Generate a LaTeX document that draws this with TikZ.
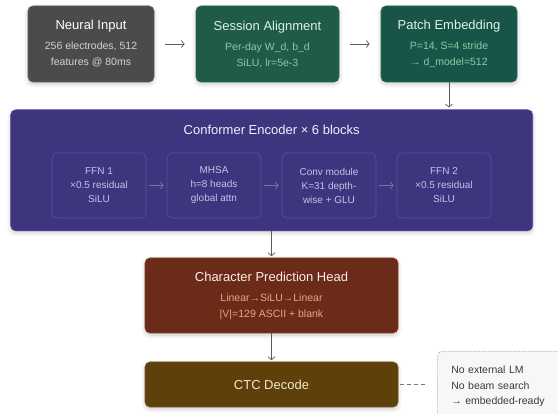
\documentclass[tikz,border=0pt]{standalone}
\usepackage{fontspec}
\setmainfont{Liberation Sans}
\usetikzlibrary{arrows.meta,shadows.blur}

\definecolor{inputfill}{HTML}{4B4B4B}
\definecolor{inputline}{HTML}{5E5E5E}
\definecolor{inputsub}{HTML}{D4D4D4}
\definecolor{alignfill}{HTML}{1F5B46}
\definecolor{patchfill}{HTML}{185548}
\definecolor{greenline}{HTML}{2C6B55}
\definecolor{greentitle}{HTML}{DBF2E6}
\definecolor{greensub}{HTML}{8CC9A8}
\definecolor{encfill}{HTML}{3D357D}
\definecolor{encline}{HTML}{5046A0}
\definecolor{enctitle}{HTML}{F2F0FD}
\definecolor{subline}{HTML}{5A50AE}
\definecolor{subtext}{HTML}{C6C1EA}
\definecolor{subarrow}{HTML}{78749C}
\definecolor{headfill}{HTML}{6B2B18}
\definecolor{headline}{HTML}{7C3924}
\definecolor{headtitle}{HTML}{FBEEE8}
\definecolor{headsub}{HTML}{E3A58C}
\definecolor{ctcfill}{HTML}{5E400B}
\definecolor{ctcline}{HTML}{6E4F18}
\definecolor{ctctitle}{HTML}{F4E7CF}
\definecolor{notefill}{HTML}{F7F7F7}
\definecolor{noteline}{HTML}{B0B0B0}
\definecolor{notetext}{HTML}{3A3A3A}
\definecolor{arrowgray}{HTML}{5A5A5A}

\tikzset{
  stage/.style={rounded corners=5pt, inner sep=0pt, align=center,
    line width=0.6pt,
    font=\fontsize{10.5}{16}\selectfont,
    blur shadow={shadow xshift=0pt, shadow yshift=-2pt,
      shadow blur radius=4pt, shadow opacity=22}},
  substage/.style={rounded corners=5pt, inner sep=0pt, align=center,
    draw=subline, line width=0.6pt, text=subtext,
    minimum width=94pt, minimum height=65pt,
    font=\fontsize{10}{14}\selectfont},
  flow/.style={draw=arrowgray, line width=0.7pt,
    -{Straight Barb[length=3pt,width=7pt]}},
  subflow/.style={draw=subarrow, line width=0.8pt,
    -{Straight Barb[length=3pt,width=7pt]}, shorten <=3pt, shorten >=3pt},
  ttl/.style={font=\fontsize{13}{16}\selectfont}
}

\newcommand{\ttlfont}{\fontsize{13}{16}\selectfont}

\begin{document}
\begin{tikzpicture}[x=1pt,y=-1pt]
\useasboundingbox (0,0) rectangle (558,414);
\clip (0,0) rectangle (558,414);

% top row
\node[stage, fill=inputfill, draw=inputline, text=inputsub,
  minimum width=126pt, minimum height=76pt] (input) at (91,44)
  {{\ttlfont\color{white}Neural Input}\\[4pt]256 electrodes, 512\\features @ 80ms};
\node[stage, fill=alignfill, draw=greenline, text=greensub,
  minimum width=143pt, minimum height=76pt] (align) at (267.5,44)
  {{\ttlfont\color{greentitle}Session Alignment}\\[4pt]Per-day W\_d, b\_d\\SiLU, lr=5e-3};
\node[stage, fill=patchfill, draw=greenline, text=greensub,
  minimum width=136pt, minimum height=76pt] (patch) at (449,44)
  {{\ttlfont\color{greentitle}Patch Embedding}\\[4pt]P=14, S=4 stride\\→ d\_model=512};

\draw[flow, shorten <=11pt, shorten >=11pt] (input) -- (align);
\draw[flow, shorten <=11pt, shorten >=11pt] (align) -- (patch);

% encoder
\node[stage, fill=encfill, draw=encline,
  minimum width=522pt, minimum height=121pt] (enc) at (271.7,170.3) {};
\node[ttl, text=enctitle] (enctitle) at (271.7,130) {Conformer Encoder × 6 blocks};

\node[substage] (ffn1) at (99,185.5) {FFN 1\\×0.5 residual\\SiLU};
\node[substage] (mhsa) at (214,185.5) {MHSA\\h=8 heads\\global attn};
\node[substage] (conv) at (329,185.5) {Conv module\\K=31 depth-\\wise + GLU};
\node[substage] (ffn2) at (444,185.5) {FFN 2\\×0.5 residual\\SiLU};

\draw[subflow] (ffn1) -- (mhsa);
\draw[subflow] (mhsa) -- (conv);
\draw[subflow] (conv) -- (ffn2);

\draw[flow, shorten >=2pt] (patch.south) -- (patch.south |- enc.north);

% output head
\node[stage, fill=headfill, draw=headline, text=headsub,
  minimum width=253pt, minimum height=75pt] (head) at (271.5,295.5)
  {{\ttlfont\color{headtitle}Character Prediction Head}\\[4pt]Linear→SiLU→Linear\\|V|=129 ASCII + blank};
\node[stage, fill=ctcfill, draw=ctcline, text=ctctitle,
  minimum width=253pt, minimum height=45pt] (ctc) at (271.5,384.5)
  {\ttlfont CTC Decode};

\draw[flow, shorten >=1.5pt] (enc.south -| head.north) -- (head.north);
\draw[flow, shorten >=1.5pt] (head.south) -- (ctc.north);

% deployment note
\node[rounded corners=5pt, fill=notefill, draw=noteline, dash pattern=on 1.5pt off 1pt,
  line width=0.6pt, text=notetext, align=left, anchor=north west,
  text width=112pt, inner xsep=14pt, inner ysep=14.5pt,
  font=\fontsize{10.5}{15.7}\selectfont] (note) at (437,351)
  {No external LM\\No beam search\\→ embedded-ready};

\draw[draw=arrowgray!80, line width=0.7pt, dash pattern=on 4pt off 3pt,
  shorten <=2pt, shorten >=10pt] (ctc.east) -- (ctc.east -| note.west);
\end{tikzpicture}
\end{document}
